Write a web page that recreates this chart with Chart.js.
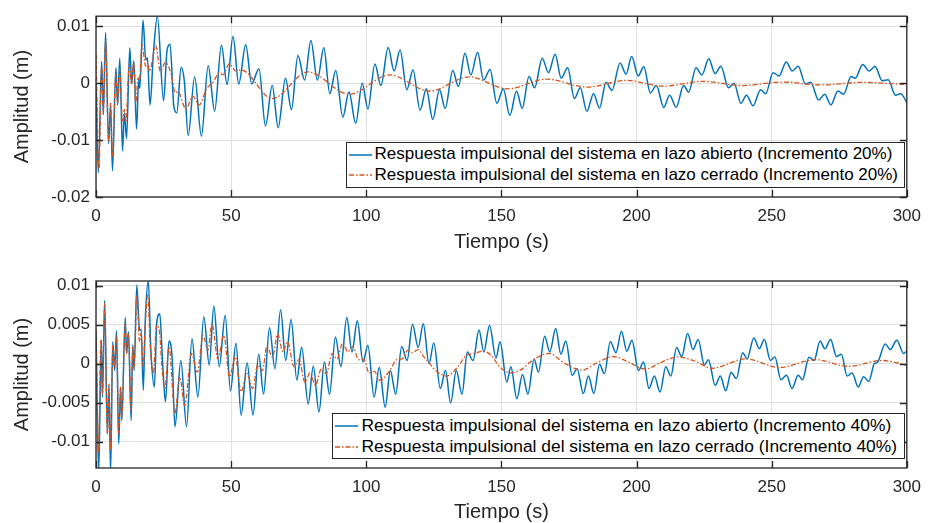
<!DOCTYPE html>
<html>
<head>
<meta charset="utf-8">
<script src="https://cdn.jsdelivr.net/npm/chart.js@4.4.1/dist/chart.umd.min.js"></script>
<style>
  body { margin: 0; background: #fff; }
  #wrap { position: relative; width: 930px; height: 523px; }
  canvas { position: absolute; left: 0; }
  .legend {
    position: absolute; right: 25px; background: #fff; border: 1px solid #262626;
    font: 17px "Liberation Sans", Arial, sans-serif; color: #000;
    padding: 1px 6px 2px 1px; line-height: 20.5px; white-space: nowrap;
  }
  .legend svg { vertical-align: middle; margin-right: 3px; }
</style>
</head>
<body>
<div id="wrap">
  <canvas id="c1" width="930" height="262" style="top:0"></canvas>
  <canvas id="c2" width="930" height="261" style="top:262px"></canvas>
  <div class="legend" style="top:142px">
    <div><svg width="24" height="10"><line x1="1" y1="5" x2="24" y2="5" stroke="#0072BD" stroke-width="1.5"/></svg>Respuesta impulsional del sistema en lazo abierto (Incremento 20%)</div>
    <div><svg width="24" height="10"><line x1="1" y1="5" x2="24" y2="5" stroke="#D95319" stroke-width="1.3" stroke-dasharray="5 2 1.5 2"/></svg>Respuesta impulsional del sistema en lazo cerrado (Incremento 20%)</div>
  </div>
  <div class="legend" style="top:413px; font-size:17.4px; padding-right:7px">
    <div><svg width="24" height="10"><line x1="1" y1="5" x2="24" y2="5" stroke="#0072BD" stroke-width="1.5"/></svg>Respuesta impulsional del sistema en lazo abierto (Incremento 40%)</div>
    <div><svg width="24" height="10"><line x1="1" y1="5" x2="24" y2="5" stroke="#D95319" stroke-width="1.3" stroke-dasharray="5 2 1.5 2"/></svg>Respuesta impulsional del sistema en lazo cerrado (Incremento 40%)</div>
  </div>
</div>
<script>
// tick values
const xTicks = [0, 50, 100, 150, 200, 250, 300];
const topYTicks = [-0.02, -0.01, 0, 0.01];
const botYTicks = [-0.01, -0.005, 0, 0.005, 0.01];

// top plot (20%) - open loop, read peak by peak
const topOpenT = [
  0, 0.85, 2.1, 2.7, 3.55, 4.65, 5.4, 6.1, 7.35, 8.0,
  8.8, 9.8, 10.5, 11.3, 12.5, 13.2, 14.0, 15.0, 15.8, 16.2,
  17.4, 18.4, 19.0, 20.0, 21.2, 22.7, 25.0, 26.3, 27.4, 28.8,
  29.9, 31.5, 32.7, 34.1, 36.5, 39.0, 41.5, 43.9, 46.4, 48.5,
  50.7, 52.8, 55.4, 57.6, 60.3, 62.7, 65.2, 67.4, 70.1, 72.3,
  74.7, 77.2, 79.5, 81.9, 84.3, 86.5, 88.7, 91.3, 93.6, 96.1,
  98.5, 100.6, 103.2, 105.4, 108.1, 110.3, 112.5, 115.0, 117.3, 119.9,
  122.2, 124.6, 127.1, 129.2, 132.0, 134.1, 136.5, 138.7, 141.2, 143.4,
  145.8, 148.3, 150.7, 153.1, 155.6, 157.7, 160.2, 162.3, 165.1, 167.4,
  169.9, 172.1, 174.5, 177.0, 179.2, 181.6, 184.1, 186.3, 188.7, 190.9,
  193.9, 196.1, 198.2, 200.6, 202.7, 205.1, 207.3, 210.1, 212.2, 214.7,
  217.4, 219.3, 222.0, 224.2, 226.7, 229.1, 231.2, 234.0, 236.1, 238.6,
  240.7, 243.1, 245.9, 247.8, 250.5, 252.7, 255.4, 257.6, 259.8, 262.5,
  264.4, 267.4, 269.6, 271.9, 274.5, 276.6, 279.4, 280.9, 283.7, 286.1,
  288.2, 290.9, 293.1, 295.8, 297.8, 300
];
const topOpenA = [
  0, -0.0157, 0.00385, -0.0055, 0.00895, -0.0106, -0.0038, -0.0154, 0.00272, -0.0038,
  0.00442, -0.0119, -0.0052, -0.00975, 0.00623, -0.0001, 0.00397, -0.00805, 0.00074, -0.0009,
  0.0111, 0.0041, 0.0045, -0.0038, 0.005, 0.0118, -0.00306, 0.00584, 0.00686, -0.00408,
  -0.0052, 0.00283, 0.00034, -0.00919, 0.00113, -0.0093, 0.0031, -0.0049, 0.00669, -0.00023,
  0.00827, -0.00012, 0.0068, -0.0001, 0.00255, -0.0075, -0.0004, -0.0078, 0.0009, -0.00465,
  0.00487, 0.00056, 0.00754, 0.00056, 0.00623, -0.00182, 0.00227, -0.00595, -0.00153, -0.00703,
  0, -0.00454, 0.0034, -0.0004, 0.00629, 0.00215, 0.00584, -0.00114, 0.00232, -0.00476,
  -0.00097, -0.00635, -0.00114, -0.00442, 0.00227, -0.00057, 0.00527, 0.00147, 0.00544, 0.00056,
  0.00244, -0.00352, -0.00097, -0.00567, -0.00142, -0.00442, 0.00119, -0.0008, 0.00442, 0.00187,
  0.0051, 0.0009, 0.00272, -0.00267, -0.0008, -0.00493, -0.00182, -0.00437, 0.00017, -0.00125,
  0.00357, 0.00159, 0.0047, 0.0013, 0.00289, -0.0017, -0.0004, -0.00425, -0.0021, -0.0042,
  -0.0004, -0.00153, 0.00272, 0.00147, 0.00431, 0.0017, 0.003, -0.0008, 0, -0.00352,
  -0.0021, -0.00397, -0.00114, -0.00182, 0.00187, 0.0013, 0.00374, 0.00215, 0.003, -0.00012,
  0.00017, -0.00295, -0.00193, -0.0038, -0.00136, -0.00193, 0.00119, 0.0009, 0.00329, 0.00215,
  0.003, 0.00045, 0.00062, -0.0021, -0.00182, -0.0034
];

// top plot (20%) - closed loop
const topClosedT = [
  0, 1.1, 2.1, 2.7, 3.55, 4.65, 5.4, 6.1, 7.35, 8.0,
  8.8, 9.8, 10.5, 11.0, 12.3, 13.1, 14.0, 14.7, 15.6, 16.0,
  17.0, 18.4, 19.2, 19.8, 22.1, 23.8, 25.7, 27.8, 29.4, 30.3,
  33.3, 35.8, 38.2, 41.0, 43.5, 45.6, 47.0, 49.3, 51.7, 53.6,
  65.2, 78.4, 93.7, 108.7, 123.4, 138.1, 152.2, 166.9, 181.6, 196.3,
  209.8, 224.5, 239.2, 253.9, 268.6, 283.3, 300
];
const topClosedA = [
  0.005, -0.0151, 0.003, -0.0052, 0.0075, -0.0103, -0.0035, -0.0129, 0.0016, -0.0035,
  0.0024, -0.0066, -0.0046, -0.0069, 0.0033, -0.0001, 0.0036, -0.0035, 0.001, 0.0002,
  0.0068, 0.003, 0.0036, 0.00215, 0.00657, 0.00215, 0.00368, 0.0016, -0.0017, -0.0015,
  -0.0045, -0.00227, -0.0038, -0.0009, 0.0003, 0.00187, 0.0015, 0.0034, 0.0022, 0.00235,
  -0.0027, 0.002, -0.0019, 0.00147, -0.00136, 0.00113, -0.00097, 0.00073, -0.00068, 0.0005,
  -0.00051, 0.00034, -0.0004, 0.00022, -0.00029, 0.00017, -0.00023
];

// bottom plot (40%) - open loop
const botOpenT = [
  0, 1.0, 1.95, 2.4, 3.2, 4.2, 4.8, 5.4, 6.2, 6.9,
  7.6, 8.4, 9.1, 9.55, 10.8, 11.3, 12.0, 13.0, 13.6, 14.1,
  15.1, 16.1, 16.7, 17.5, 18.2, 19.35, 20.3, 21.6, 22.5, 23.6,
  24.6, 25.7, 27.0, 28.2, 29.2, 31.4, 33.5, 35.5, 37.7, 39.9,
  41.9, 43.6, 45.6, 47.8, 49.75, 51.8, 53.7, 55.9, 58.1, 60.2,
  62.0, 64.2, 66.2, 68.3, 70.2, 72.2, 74.3, 76.1, 78.5, 80.4,
  82.5, 84.5, 86.4, 88.6, 90.6, 92.8, 94.7, 96.7, 98.8, 100.6,
  102.9, 104.8, 107.0, 108.9, 110.9, 113.1, 115.1, 117.1, 119.2, 121.1,
  123.2, 125.0, 127.4, 129.3, 131.2, 133.3, 135.4, 137.4, 139.5, 141.7,
  143.5, 145.6, 148.0, 149.5, 152.0, 153.5, 155.7, 157.8, 159.8, 162.1,
  163.7, 166.0, 167.9, 170.1, 172.0, 173.8, 176.2, 178.0, 180.3, 182.2,
  184.2, 186.3, 188.1, 190.3, 192.4, 194.4, 196.4, 198.3, 200.7, 202.6,
  204.6, 206.6, 208.7, 210.8, 212.7, 214.8, 216.7, 218.9, 220.9, 222.8,
  225.1, 226.6, 229.1, 231.0, 233.0, 235.0, 236.9, 239.3, 240.9, 243.4,
  245.4, 247.3, 249.5, 251.2, 253.4, 255.5, 257.5, 259.8, 261.4, 263.8,
  265.7, 267.9, 269.7, 271.8, 274.0, 275.8, 277.9, 279.8, 282.0, 284.0,
  285.9, 288.0, 289.2, 292.0, 293.9, 296.3, 298.8, 300
];
const botOpenA = [
  0.0043, -0.014, 0.003, -0.0043, 0.0081, -0.009, -0.0028, -0.014, 0.0028, -0.0009,
  0.0042, -0.0103, -0.003, -0.0073, 0.0059, 0.0013, 0.0041, -0.0073, 0.0024, -0.0009,
  0.0101, 0.0043, 0.0044, -0.0034, 0.0053, 0.0106, 0.0017, -0.003, 0.0053, 0.0064,
  0.0004, -0.0049, 0.0029, 0.0006, -0.0081, 0.0004, -0.0081, 0.0032, -0.0043, 0.006,
  -0.0002, 0.0074, -0.0004, 0.0062, -0.0035, 0.0026, -0.0066, 0.0001, -0.0066, 0.0012,
  -0.0039, 0.0046, -0.00065, 0.0069, 0.0004, 0.00565, -0.0021, 0.0021, -0.0052, -0.00035,
  -0.0062, 0.0002, -0.00395, 0.0034, -0.0004, 0.0059, 0.0015, 0.0055, 0.0002, 0.00235,
  -0.0043, -0.0005, -0.0056, -0.0009, -0.00395, 0.0022, 0.0004, 0.00505, 0.00205, 0.0051,
  0, 0.00265, -0.0032, -0.0009, -0.00505, -0.0009, -0.00395, 0.0015, 0.0004, 0.0043,
  0.0015, 0.0049, 0.0007, 0.0028, -0.00235, -0.0004, -0.0045, -0.0014, -0.0039, 0.0006,
  -0.0011, 0.0035, 0.0015, 0.0045, 0.0012, 0.0029, -0.0015, -0.00065, -0.00385, -0.0016,
  -0.00385, -0.0001, -0.0013, 0.0028, 0.0014, 0.00415, 0.0016, 0.003, -0.0009, 0.0002,
  -0.0032, -0.0016, -0.00365, -0.0004, -0.0016, 0.00205, 0.0009, 0.00385, 0.0018, 0.0031,
  -0.0002, 0.0005, -0.0028, -0.0016, -0.0035, -0.0011, -0.0019, 0.0014, 0.0006, 0.0033,
  0.0019, 0.0031, 0.0004, 0.00085, -0.00206, -0.0015, -0.0032, -0.0015, -0.00206, 0.0008,
  0.0004, 0.0029, 0.0019, 0.0031, 0.0009, 0.0012, -0.0016, -0.0012, -0.003, -0.0017,
  -0.0023, 0, 0.0002, 0.0025, 0.0018, 0.003, 0.0013, 0.0016
];

// bottom plot (40%) - closed loop
const botClosedT = [
  0, 1.0, 1.8, 2.4, 3.2, 4.2, 4.8, 5.4, 6.2, 6.9,
  7.6, 8.4, 9.1, 9.55, 10.8, 11.3, 12.0, 13.0, 13.6, 14.1,
  15.1, 16.1, 16.7, 17.5, 18.2, 19.1, 20.1, 21.2, 22.4, 23.4,
  24.5, 25.5, 27.0, 29.2, 31.0, 32.8, 35.3, 37.5, 39.6, 41.4,
  42.9, 45.1, 47.3, 49.4, 51.5, 53.7, 55.9, 58.0, 59.8, 61.6,
  63.2, 65.3, 67.2, 69.2, 70.8, 73.3, 75.1, 77.3, 79.2, 81.2,
  83.4, 85.2, 87.4, 89.2, 91.3, 93.2, 95.0, 97.2, 99.0, 101.1,
  103.0, 105.1, 108.5, 111.3, 113.3, 115.3, 117.0, 119.2, 121.0, 123.5,
  125.4, 129.6, 133.9, 137.0, 140.0, 143.1, 146.2, 149.3, 153.5, 157.2,
  161.5, 167.6, 173.1, 179.9, 184.8, 191.5, 197.0, 203.2, 209.3, 215.4,
  221.6, 227.8, 240.5, 252.8, 266.3, 278.5, 290.8, 300
];
const botClosedA = [
  0.0043, -0.0114, 0.003, -0.0039, 0.0077, -0.009, -0.0026, -0.0111, 0.00235, -0.0005,
  0.0036, -0.009, -0.003, -0.0069, 0.0051, 0.0013, 0.0038, -0.006, 0.0021, -0.0004,
  0.0088, 0.0028, 0.0039, -0.0004, 0.0049, 0.0088, 0.0021, -0.0013, 0.0049, 0.0043,
  -0.0009, -0.0032, 0.0021, -0.0064, -0.0017, -0.0054, 0.0013, -0.0011, 0.0036, 0.0017,
  0.0051, 0.0006, 0.0036, -0.0017, 0.00085, -0.0036, -0.0013, -0.0032, -0.0002, -0.0009,
  0.0022, 0.00085, 0.0038, 0.0015, 0.0028, -0.0004, 0.0005, -0.0024, -0.0012, -0.0028,
  -0.00065, -0.0013, 0.0013, 0.0006, 0.00265, 0.0015, 0.0022, 0.0005, 0.0006, -0.0012,
  -0.001, -0.00215, -0.001, 0.0005, 0.0006, 0.0017, 0.0014, 0.0018, 0.001, 0,
  -0.0008, -0.0016, -0.0004, 0.00107, 0.0013, 0.0016, 0.00107, -0.0004, -0.0012, -0.0008,
  0.0004, 0.0013, 0.0001, -0.00085, 0, 0.0009, 0.0002, -0.0007, 0.0002, 0.00085,
  0.0003, -0.0006, 0.0006, -0.0005, 0.0005, -0.00035, 0.0004, -0.0002
];

const FONT = "'Liberation Sans', Arial, Helvetica, sans-serif";
const INK = '#262626';

const toPoints = (t, a) => t.map((v, i) => ({ x: v, y: a[i] }));

// MATLAB-like box with inward ticks on all four sides
const matlabBox = {
  id: 'matlabBox',
  afterDatasetsDraw(chart) {
    const { ctx, chartArea: a, scales: { x, y } } = chart;
    const L = 7;
    ctx.save();
    ctx.strokeStyle = INK;
    ctx.lineWidth = 1.3;
    ctx.beginPath();
    x.ticks.forEach(t => {
      const px = Math.round(x.getPixelForValue(t.value)) + 0.5;
      ctx.moveTo(px, a.bottom); ctx.lineTo(px, a.bottom - L);
      ctx.moveTo(px, a.top); ctx.lineTo(px, a.top + L);
    });
    y.ticks.forEach(t => {
      const py = Math.round(y.getPixelForValue(t.value)) + 0.5;
      ctx.moveTo(a.left, py); ctx.lineTo(a.left + L, py);
      ctx.moveTo(a.right, py); ctx.lineTo(a.right - L, py);
    });
    ctx.stroke();
    ctx.strokeRect(a.left, a.top, a.right - a.left, a.bottom - a.top);
    ctx.restore();
  }
};

function makeChart(id, open, closed, yMin, yMax, yTicks, cfg) {
  return new Chart(document.getElementById(id), {
    type: 'line',
    data: {
      datasets: [
        {
          data: open,
          borderColor: '#0072BD',
          borderWidth: 1.5,
          pointRadius: 0,
          cubicInterpolationMode: 'monotone',
          order: 1,
          clip: 0,
        },
        {
          data: closed,
          borderColor: '#D95319',
          borderWidth: 1.3,
          borderDash: [5, 2, 1.5, 2],
          pointRadius: 0,
          cubicInterpolationMode: 'monotone',
          order: 0,
          clip: 0,
        },
      ],
    },
    options: {
      animation: false,
      responsive: false,
      devicePixelRatio: 1,
      layout: { padding: { left: 0, right: 18, top: cfg.top, bottom: 0 } },
      plugins: {
        legend: { display: false }, // legend is drawn as html
        tooltip: { enabled: false },
      },
      scales: {
        x: {
          type: 'linear',
          min: 0,
          max: 300,
          afterBuildTicks: s => { s.ticks = xTicks.map(v => ({ value: v })); },
          afterFit: s => { s.height = cfg.xHeight; },
          grid: { color: '#dfdfdf', drawTicks: false },
          border: { display: false },
          ticks: {
            padding: 9, color: INK, maxRotation: 0, autoSkip: false,
            font: { family: FONT, size: 17 },
            callback: v => String(v),
          },
          title: {
            display: true, text: 'Tiempo (s)', color: INK,
            font: { family: FONT, size: 20 },
            padding: { top: 0, bottom: cfg.titlePad },
          },
        },
        y: {
          min: yMin,
          max: yMax,
          afterBuildTicks: s => { s.ticks = yTicks.map(v => ({ value: v })); },
          afterFit: s => { s.width = 96; },
          grid: { color: '#dfdfdf', drawTicks: false },
          border: { display: false },
          ticks: {
            padding: 6, color: INK, autoSkip: false,
            font: { family: FONT, size: 17 },
            callback: v => String(v),
          },
          title: {
            display: true, text: 'Amplitud (m)', color: INK,
            font: { family: FONT, size: 20 },
            padding: { top: 10, bottom: 0 },
          },
        },
      },
    },
    plugins: [matlabBox],
  });
}

makeChart('c1', toPoints(topOpenT, topOpenA), toPoints(topClosedT, topClosedA),
  -0.02, 0.0118, topYTicks, { top: 10, xHeight: 65, titlePad: 8 });
makeChart('c2', toPoints(botOpenT, botOpenA), toPoints(botClosedT, botClosedA),
  -0.0134, 0.0106, botYTicks, { top: 19, xHeight: 55, titlePad: -1 });
</script>
</body>
</html>
